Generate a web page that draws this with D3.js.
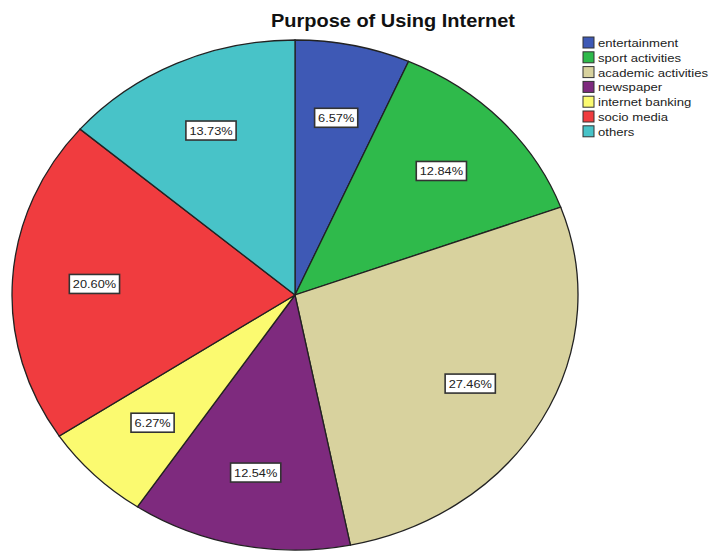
<!DOCTYPE html>
<html>
<head>
    <meta charset="utf-8">
    <script src="https://d3js.org/d3.v7.min.js"></script>
    <style>
        body { margin: 0; background: #fff; }
        text { font-family: 'Liberation Sans', Arial, sans-serif; }
    </style>
</head>
<body>
    <div id="chart"></div>
    <script>
        // data
        const categories = ["entertainment", "sport activities", "academic activities", "newspaper", "internet banking", "socio media", "others"];
        const percents = [6.57, 12.84, 27.46, 12.54, 6.27, 20.60, 13.73];
        const colors = ["#3e59b5", "#2fba4b", "#d8d29e", "#7e2a7e", "#fbfa70", "#f03c3f", "#48c3c8"];

        const width = 711, height = 551;
        const cx = 295, cy = 295, rx = 283, ry = 255;
        const stretch = rx / ry; // the whole picture is a bit wider than tall

        const svg = d3.select("#chart").append("svg")
            .attr("width", width)
            .attr("height", height);

        // title
        svg.append("text")
            .attr("transform", `translate(393,27) scale(${stretch},1)`)
            .attr("text-anchor", "middle")
            .style("font-size", "18px")
            .style("font-weight", "bold")
            .attr("fill", "#111")
            .text("Purpose of Using Internet");

        const pie = d3.pie().sort(null).value(d => d)(percents);

        const arc = d3.arc().innerRadius(0).outerRadius(ry);

        // the pie is drawn as a circle and stretched into an ellipse
        const g = svg.append("g")
            .attr("transform", `translate(${cx},${cy}) scale(${stretch},1)`);

        g.selectAll("path")
            .data(pie)
            .enter()
            .append("path")
            .attr("d", arc)
            .attr("fill", (d, i) => colors[i])
            .attr("stroke", "#222")
            .attr("stroke-width", 1.3)
            .attr("vector-effect", "non-scaling-stroke");

        // value labels in white boxes
        const labels = svg.append("g");
        pie.forEach((d, i) => {
            const a = (d.startAngle + d.endAngle) / 2;
            const k = 0.71;
            const x = cx + rx * k * Math.sin(a);
            const y = cy - ry * k * Math.cos(a);
            const lg = labels.append("g").attr("transform", `translate(${x},${y})`);
            const rect = lg.append("rect");
            const t = lg.append("text")
                .attr("text-anchor", "middle")
                .attr("dy", "0.36em")
                .attr("transform", `scale(${stretch},1)`)
                .style("font-size", "11.5px")
                .attr("fill", "#222")
                .text(percents[i].toFixed(2) + "%");
            const w = t.node().getComputedTextLength() * stretch + 7;
            rect.attr("x", -w / 2).attr("y", -9.5)
                .attr("width", w).attr("height", 19)
                .attr("fill", "#fff")
                .attr("stroke", "#333")
                .attr("stroke-width", 1.6);
        });

        // legend
        const legend = svg.append("g").attr("transform", "translate(583,37)");
        categories.forEach((c, i) => {
            const row = legend.append("g").attr("transform", `translate(0,${i * 14.8})`);
            row.append("rect")
                .attr("width", 11).attr("height", 11)
                .attr("fill", colors[i])
                .attr("stroke", "#333")
                .attr("stroke-width", 1);
            row.append("text")
                .attr("transform", `translate(15,10) scale(1.14,1)`)
                .style("font-size", "11.5px")
                .attr("fill", "#222")
                .text(c);
        });
    </script>
</body>
</html>
